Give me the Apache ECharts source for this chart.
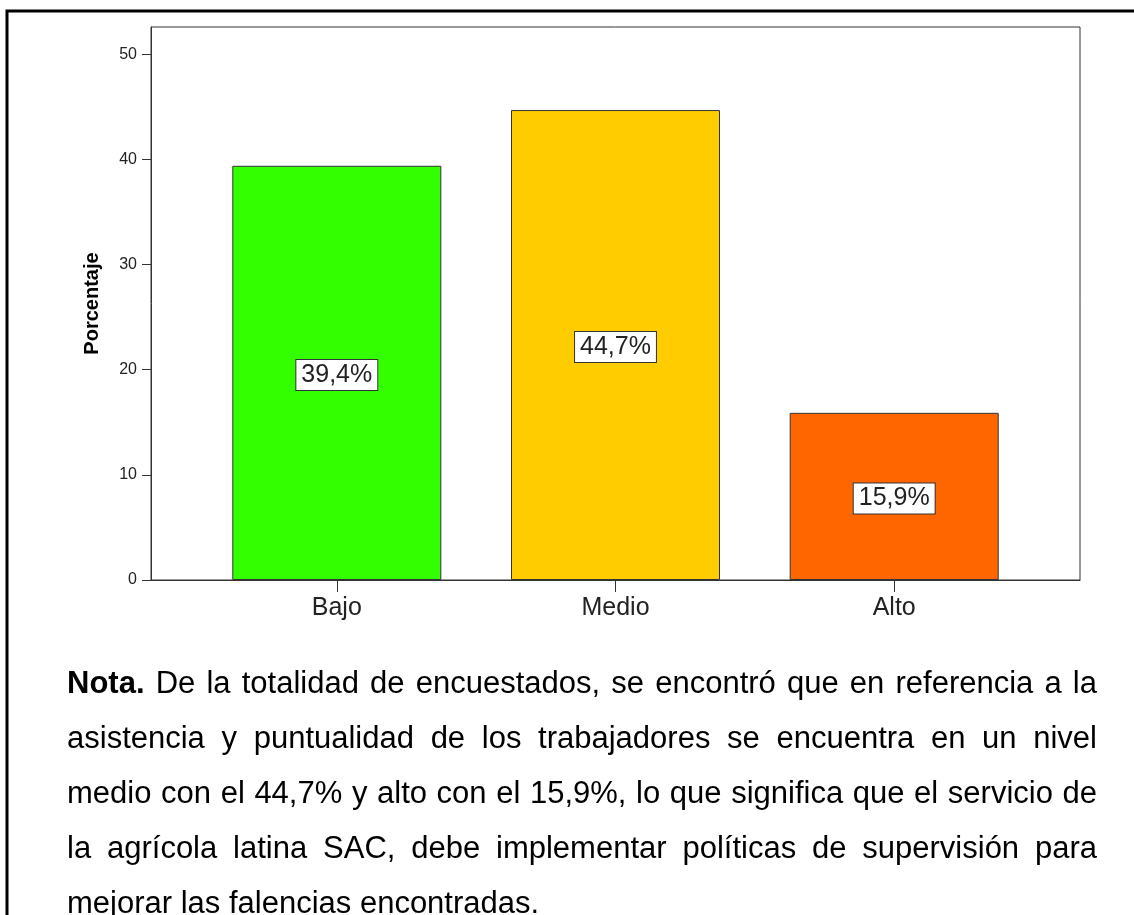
<!DOCTYPE html>
<html>
<head>
<meta charset="utf-8">
<script src="https://cdn.jsdelivr.net/npm/echarts@6/dist/echarts.min.js"></script>
<style>
  html, body { margin: 0; padding: 0; background: #fff; }
  #wrap { position: relative; width: 1134px; height: 915px; overflow: hidden; }
  #chart { position: absolute; left: 0; top: 0; width: 1134px; height: 915px; }
  #nota {
    position: absolute; left: 67px; top: 655px; width: 1030px;
    font-family: "Liberation Sans", Arial, sans-serif; font-size: 31px;
    line-height: 55px; color: #000;
  }
  #nota div { text-align: justify; text-align-last: justify; white-space: nowrap; }
  #nota div.last { text-align: left; text-align-last: left; }
</style>
</head>
<body>
<div id="wrap">
  <div id="chart"></div>
  <div id="nota">
    <div><b>Nota.</b> De la totalidad de encuestados, se encontró que en referencia a la</div>
    <div>asistencia y puntualidad de los trabajadores se encuentra en un nivel</div>
    <div>medio con el 44,7% y alto con el 15,9%, lo que significa que el servicio de</div>
    <div>la agrícola latina SAC, debe implementar políticas de supervisión para</div>
    <div class="last">mejorar las falencias encontradas.</div>
  </div>
</div>
<script>
// Nivel de asistencia y puntualidad (porcentaje de encuestados)
const categories = ['Bajo', 'Medio', 'Alto'];
const percentages = [39.4, 44.7, 15.9];
const barColors = ['#33ff00', '#ffcc00', '#ff6600'];
const yTicks = [0, 10, 20, 30, 40, 50];
const categoryIndex = [0, 1, 2];

const FONT = '"Liberation Sans", Arial, sans-serif';
const chart = echarts.init(document.getElementById('chart'), null, { renderer: 'canvas' });

const barData = percentages.map((v, i) => ({
  value: [categoryIndex[i], v],
  itemStyle: { color: barColors[i] }
}));

chart.setOption({
  animation: false,
  backgroundColor: '#fff',
  grid: {
    left: 151, top: 27, right: 54, bottom: 335,
    show: true, borderColor: '#333', borderWidth: 1, backgroundColor: 'transparent'
  },
  xAxis: {
    type: 'value',
    min: -2 / 3,
    max: 8 / 3,
    splitLine: { show: false },
    axisLine: { show: true, onZero: false, lineStyle: { color: '#333', width: 1 } },
    axisTick: { show: true, customValues: categoryIndex, length: 12, lineStyle: { color: '#333' } },
    axisLabel: {
      customValues: categoryIndex,
      formatter: v => categories[Math.round(v)],
      margin: 16,
      fontFamily: FONT, fontSize: 25, color: '#222'
    }
  },
  yAxis: {
    type: 'value',
    min: 0,
    max: 52.6,
    name: 'Porcentaje',
    nameLocation: 'middle',
    nameRotate: 90,
    nameGap: 49,
    nameTextStyle: { fontFamily: FONT, fontSize: 20, fontWeight: 'bold', color: '#000' },
    splitLine: { show: false },
    axisLine: { show: true, onZero: false, lineStyle: { color: '#333', width: 1 } },
    axisTick: { show: true, customValues: yTicks, length: 9, lineStyle: { color: '#333' } },
    axisLabel: {
      customValues: yTicks,
      margin: 14,
      fontFamily: FONT, fontSize: 16, color: '#222'
    }
  },
  series: [{
    type: 'bar',
    barWidth: 209,
    data: barData,
    itemStyle: { borderColor: '#333', borderWidth: 1 },
    label: {
      show: true,
      position: 'inside',
      offset: [0, 2],
      formatter: p => p.value[1].toFixed(1).replace('.', ',') + '%',
      fontFamily: FONT, fontSize: 25, color: '#222',
      backgroundColor: '#fff', borderColor: '#333', borderWidth: 1,
      padding: [3, 5, 2, 5]
    }
  }],
  graphic: [{
    type: 'rect',
    shape: { x: 7, y: 11, width: 1140, height: 1000 },
    style: { fill: 'none', stroke: '#000', lineWidth: 3 },
    silent: true
  }]
});
</script>
</body>
</html>
